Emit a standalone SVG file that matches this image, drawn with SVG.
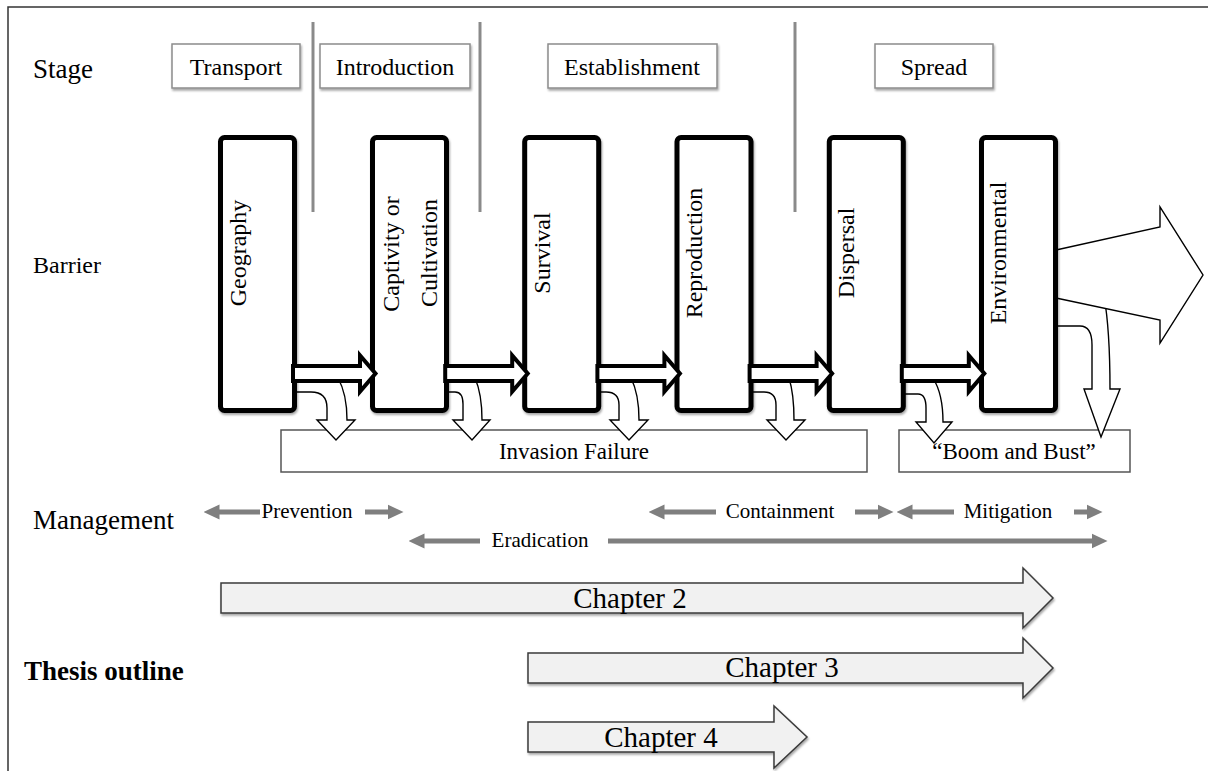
<svg xmlns="http://www.w3.org/2000/svg" xmlns:xlink="http://www.w3.org/1999/xlink" width="1208" height="771" viewBox="0 0 1208 771">
<defs>
<style>
.t{font-family:"Liberation Serif","Times New Roman",serif;fill:#000}
.stage{fill:#fff;stroke:#8c8c8c;stroke-width:1.5}
.vline{stroke:#8a8a8a;stroke-width:3}
.barrier{fill:#fff;stroke:#000;stroke-width:5}
.harrow{fill:#fff;stroke:#000;stroke-width:4;stroke-linejoin:miter}
.drop{fill:#fff;stroke:#000;stroke-width:1.4}
.outcome{fill:#fff;stroke:#555;stroke-width:1.5}
.mg{stroke:#7f7f7f;stroke-width:5;fill:none}
.chap{fill:#f1f1f1;stroke:#3a3a3a;stroke-width:1.5}
</style>
<filter id="sh" x="-10%" y="-10%" width="130%" height="140%">
<feDropShadow dx="1" dy="2" stdDeviation="1.2" flood-color="#000" flood-opacity="0.35"/>
</filter>
<marker id="mh" viewBox="0 0 16 16" markerWidth="16" markerHeight="16" markerUnits="userSpaceOnUse" refX="0.5" refY="8" orient="auto-start-reverse">
<path d="M0,0.5 L16,8 L0,15.5 Z" fill="#7f7f7f"/>
</marker>
<path id="ha" class="harrow" d="M293,366 H360 V355.5 L375.5,373.5 L360,391.5 V381 H293 Z"/>
</defs>
<rect width="1208" height="771" fill="#fff"/>
<path d="M8,771 V7 H1208" fill="none" stroke="#333" stroke-width="1.5"/>

<g id="labels">
<text class="t" x="33" y="78" font-size="27">Stage</text>
<text class="t" x="33" y="273" font-size="24">Barrier</text>
<text class="t" x="33" y="529" font-size="27">Management</text>
<text class="t" x="24" y="680" font-size="27" font-weight="bold">Thesis outline</text>
</g>

<g id="stage-dividers">
<line class="vline" x1="313" y1="22" x2="313" y2="212"/>
<line class="vline" x1="480" y1="22" x2="480" y2="212"/>
<line class="vline" x1="795" y1="22" x2="795" y2="212"/>
</g>

<g id="stage-transport"><rect class="stage" x="172" y="44" width="128" height="44" filter="url(#sh)"/><text class="t" x="236" y="75" font-size="24" text-anchor="middle">Transport</text></g>
<g id="stage-introduction"><rect class="stage" x="320" y="44" width="150" height="44" filter="url(#sh)"/><text class="t" x="395" y="75" font-size="24" text-anchor="middle">Introduction</text></g>
<g id="stage-establishment"><rect class="stage" x="548" y="44" width="169" height="44" filter="url(#sh)"/><text class="t" x="632" y="75" font-size="24" text-anchor="middle">Establishment</text></g>
<g id="stage-spread"><rect class="stage" x="875" y="44" width="118" height="44" filter="url(#sh)"/><text class="t" x="934" y="75" font-size="24" text-anchor="middle">Spread</text></g>

<g id="invasion-failure"><rect class="outcome" x="281" y="430" width="586" height="42"/><text class="t" x="574" y="459" font-size="23" text-anchor="middle">Invasion Failure</text></g>
<g id="boom-and-bust"><rect class="outcome" x="899" y="430" width="231" height="42"/><text class="t" x="1014" y="459" font-size="23" text-anchor="middle">“Boom and Bust”</text></g>

<g id="connectors">
<g id="drop-arrows">
<path class="drop" d="M290,392 H311 Q327,392 327,408 V420 H317 L336,440 L355,420 H347 Q347,394 338,378 L290,378 Z"/>
<path class="drop" d="M445,392 H455 Q463,392 463,404 V420 H453 L472,440 L490,420 H482 Q482,394 475,378 L445,378 Z"/>
<path class="drop" d="M598,392 H606 Q619,392 619,405 V420 H610 L629,440 L648,420 H639 Q639,394 631,378 L598,378 Z"/>
<path class="drop" d="M748,392 H764 Q776,392 776,405 V420 H767 L786,440 L805,420 H794 Q794,394 789,378 L748,378 Z"/>
<path class="drop" d="M900,394 H918 Q926,394 926,408 V422 H916 L934,443 L952,422 H943 Q943,394 933,378 L900,378 Z"/>
<path class="drop" d="M1053,326 H1080 Q1092,326 1092,345 V389 H1084 L1101,437 L1120,389 H1110 Q1110,330 1104,296 L1053,296 Z"/>
</g>
<path id="spread-arrow" fill="#fff" stroke="#000" stroke-width="1.4" d="M1056,250 L1160,227 V207 L1203,275 L1160,343 V320 L1056,298"/>
</g>

<g id="barrier-geography"><rect class="barrier" x="220.5" y="137.5" width="74" height="273" rx="4" filter="url(#sh)"/><text class="t" font-size="24" text-anchor="middle" transform="translate(246,253) rotate(-90)">Geography</text></g>
<g id="barrier-captivity"><rect class="barrier" x="372.5" y="137.5" width="74" height="273" rx="4" filter="url(#sh)"/><text class="t" font-size="24" text-anchor="middle" transform="translate(399,254) rotate(-90)">Captivity or</text><text class="t" font-size="24" text-anchor="middle" transform="translate(437,253) rotate(-90)">Cultivation</text></g>
<g id="barrier-survival"><rect class="barrier" x="524.7" y="137.5" width="74" height="273" rx="4" filter="url(#sh)"/><text class="t" font-size="24" text-anchor="middle" transform="translate(550,253) rotate(-90)">Survival</text></g>
<g id="barrier-reproduction"><rect class="barrier" x="677" y="137.5" width="74" height="273" rx="4" filter="url(#sh)"/><text class="t" font-size="24" text-anchor="middle" transform="translate(702,253) rotate(-90)">Reproduction</text></g>
<g id="barrier-dispersal"><rect class="barrier" x="829.3" y="137.5" width="74" height="273" rx="4" filter="url(#sh)"/><text class="t" font-size="24" text-anchor="middle" transform="translate(854,253) rotate(-90)">Dispersal</text></g>
<g id="barrier-environmental"><rect class="barrier" x="981.5" y="137.5" width="74" height="273" rx="4" filter="url(#sh)"/><text class="t" font-size="24" text-anchor="middle" transform="translate(1006,253) rotate(-90)">Environmental</text></g>

<g id="flow-arrows">
<use xlink:href="#ha"/>
<use xlink:href="#ha" x="152.2"/>
<use xlink:href="#ha" x="304.4"/>
<use xlink:href="#ha" x="456.6"/>
<use xlink:href="#ha" x="608.8"/>
</g>

<g id="management">
<line class="mg" x1="260" y1="512" x2="219" y2="512" marker-end="url(#mh)"/>
<line class="mg" x1="365" y1="512" x2="388" y2="512" marker-end="url(#mh)"/>
<text class="t" x="307" y="518" font-size="21" text-anchor="middle">Prevention</text>
<line class="mg" x1="480" y1="541" x2="424" y2="541" marker-end="url(#mh)"/>
<line class="mg" x1="608" y1="541" x2="1092" y2="541" marker-end="url(#mh)"/>
<text class="t" x="540" y="547" font-size="21" text-anchor="middle">Eradication</text>
<line class="mg" x1="716" y1="512" x2="664" y2="512" marker-end="url(#mh)"/>
<line class="mg" x1="855" y1="512" x2="878" y2="512" marker-end="url(#mh)"/>
<text class="t" x="780" y="518" font-size="21" text-anchor="middle">Containment</text>
<line class="mg" x1="954" y1="512" x2="912" y2="512" marker-end="url(#mh)"/>
<line class="mg" x1="1074" y1="512" x2="1087" y2="512" marker-end="url(#mh)"/>
<text class="t" x="1008" y="518" font-size="21" text-anchor="middle">Mitigation</text>
</g>

<g id="chapter-2"><path class="chap" filter="url(#sh)" d="M221,583 H1023 V568 L1053,598 L1023,628 V613 H221 Z"/><text class="t" x="630" y="608" font-size="29" text-anchor="middle">Chapter 2</text></g>
<g id="chapter-3"><path class="chap" filter="url(#sh)" d="M528,653 H1023 V638 L1053,668 L1023,698 V683 H528 Z"/><text class="t" x="782" y="677" font-size="29" text-anchor="middle">Chapter 3</text></g>
<g id="chapter-4"><path class="chap" filter="url(#sh)" d="M528,722 H774 V706 L807,737 L774,768 V752 H528 Z"/><text class="t" x="661" y="747" font-size="29" text-anchor="middle">Chapter 4</text></g>
</svg>
